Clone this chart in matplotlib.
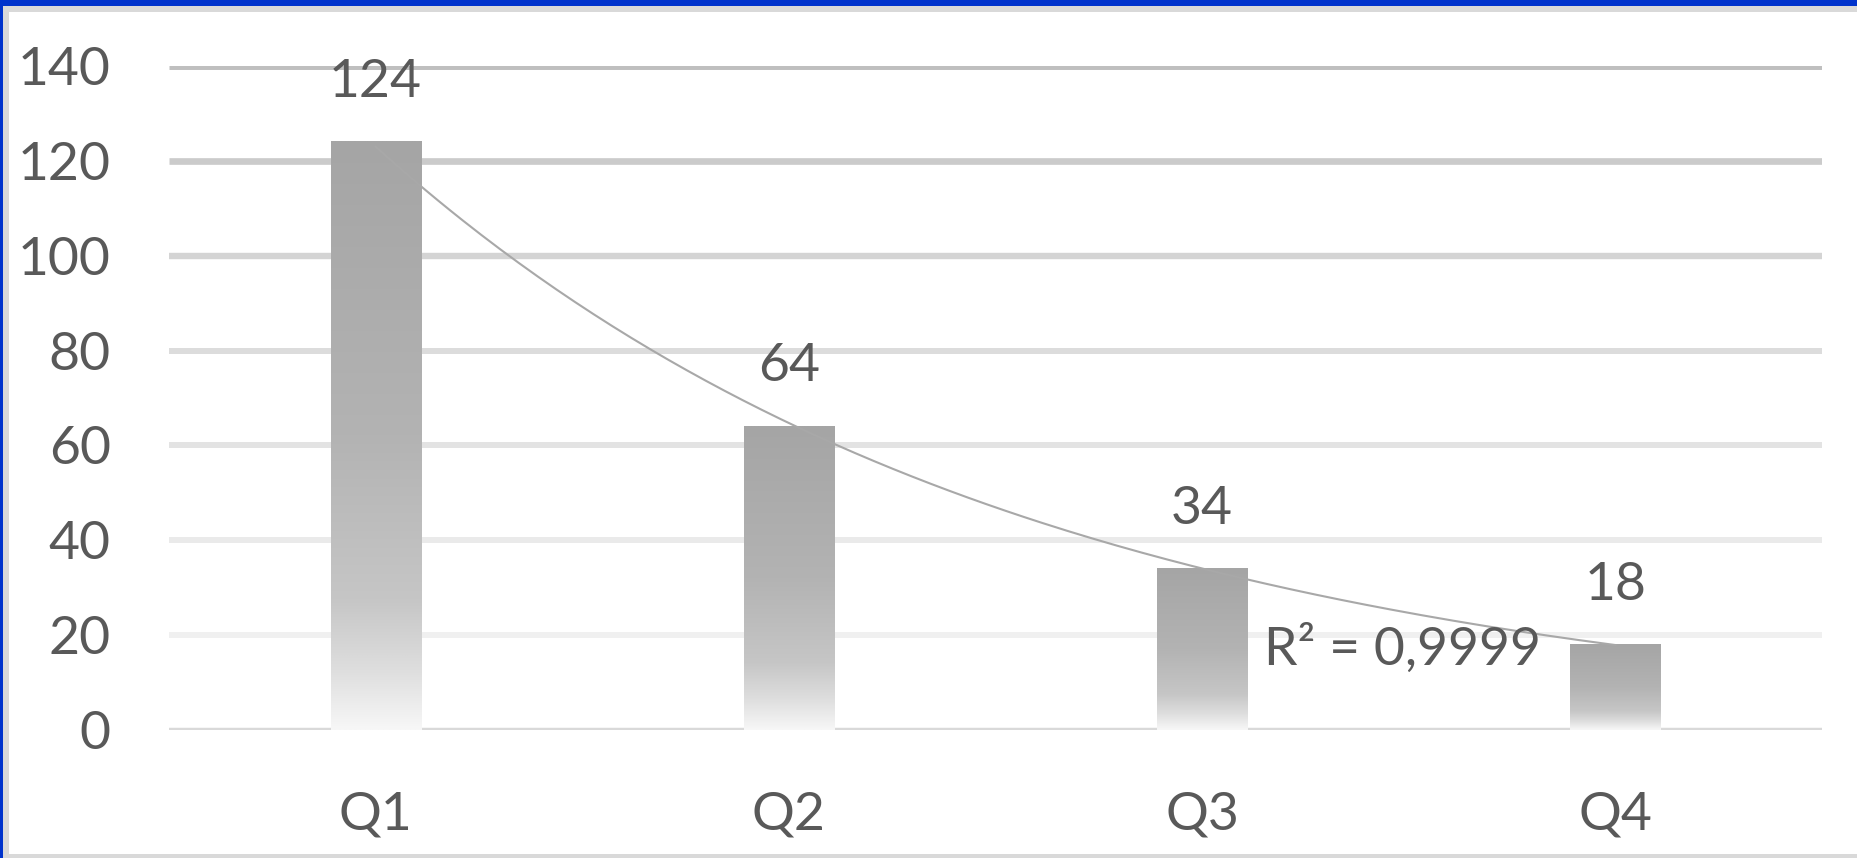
import numpy as np
import matplotlib
matplotlib.use("Agg")
import matplotlib.pyplot as plt
from matplotlib.colors import LinearSegmentedColormap
from matplotlib.patches import Rectangle

# ---- data ----
categories = ["Q1", "Q2", "Q3", "Q4"]
values = [124, 64, 34, 18]
y_ticks = [0, 20, 40, 60, 80, 100, 120, 140]
r2_text = "R\u00b2 = 0,9999"

# ---- styling ----
plt.rcParams['font.family'] = ['Lato', 'DejaVu Sans']
TEXT = "#595959"
FS = 38.5
W, H = 1858, 858
fig = plt.figure(figsize=(W / 100, H / 100), dpi=100)
fig.patch.set_facecolor("white")

# frame decorations (pixels -> figure fraction)
def fig_rect(x0, y0, x1, y1, color):
    fig.patches.append(Rectangle((x0 / W, 1 - y1 / H), (x1 - x0) / W, (y1 - y0) / H,
                                 transform=fig.transFigure, facecolor=color,
                                 edgecolor="none", zorder=-5))

fig_rect(0, 6, 9, H, "#d9d9d9")
fig_rect(0, 6, W, 12, "#d9d9d9")
fig_rect(0, H - 4, W, H, "#d9d9d9")
fig_rect(0, 0, 3, H, "#0033cc")
fig_rect(0, 0, W, 6, "#0033cc")

left, right = 169 / W, 1822 / W
top, bottom = 1 - 66 / H, 1 - 730 / H
ax = fig.add_axes([left, bottom, right - left, top - bottom])
ax.set_facecolor("none")
x = np.arange(len(categories))

# gridlines
grid_colors = ["#d9d9d9", "#f0f0f0", "#eaeaea", "#e3e3e3", "#dcdcdc", "#d4d4d4", "#cbcbcb", "#bfbfbf"]
grid_lw = [3.2, 4.3, 4.3, 4.3, 4.3, 4.6, 4.8, 5.0]
for yv, c, lw in zip(y_ticks, grid_colors, grid_lw):
    ax.axhline(yv, color=c, lw=lw, zorder=1, solid_capstyle="butt")

# bars with vertical gradient
cmap = LinearSegmentedColormap.from_list(
    "bargrad",
    [(0.0, "#a5a5a5"), (0.5, "#b3b3b3"), (0.78, "#c6c6c6"), (0.9, "#dedede"), (1.0, "#f7f7f7")])
grad = np.linspace(0, 1, 256).reshape(-1, 1)
bars = ax.bar(x, values, width=0.218, color="none", edgecolor="none", zorder=2)
for b in bars:
    x0, y0 = b.get_x(), b.get_y()
    w, h = b.get_width(), b.get_height()
    ax.imshow(grad, cmap=cmap, aspect="auto", extent=(x0, x0 + w, y0, y0 + h),
              origin="upper", zorder=2, interpolation="bilinear")
ax.set_xlim(-0.5, len(categories) - 0.5)
ax.set_ylim(0, 140)

# data labels
for xi, v in zip(x, values):
    ax.annotate(str(v), (xi, v), xytext=(0, 45), textcoords="offset pixels",
                ha="center", va="baseline", fontsize=FS, color=TEXT, zorder=4,
                annotation_clip=False)

# exponential trendline
coef = np.polyfit(x, np.log(values), 1)
xs = np.linspace(x[0], x[-1], 200)
ax.plot(xs, np.exp(np.polyval(coef, xs)), color="#a8a8a8", lw=1.5, zorder=3)
ax.text(2.485, 17.1, r2_text, ha="center", va="center", fontsize=FS, color=TEXT, zorder=4)

# axes
ax.set_xticks(x)
ax.set_xticklabels(categories)
ax.set_yticks(y_ticks)
ax.tick_params(axis="both", length=0, labelsize=FS, labelcolor=TEXT)
ax.tick_params(axis="y", pad=42)
ax.tick_params(axis="x", pad=44)
for s in ax.spines.values():
    s.set_visible(False)

fig.savefig("out.png", dpi=100, facecolor="white")
